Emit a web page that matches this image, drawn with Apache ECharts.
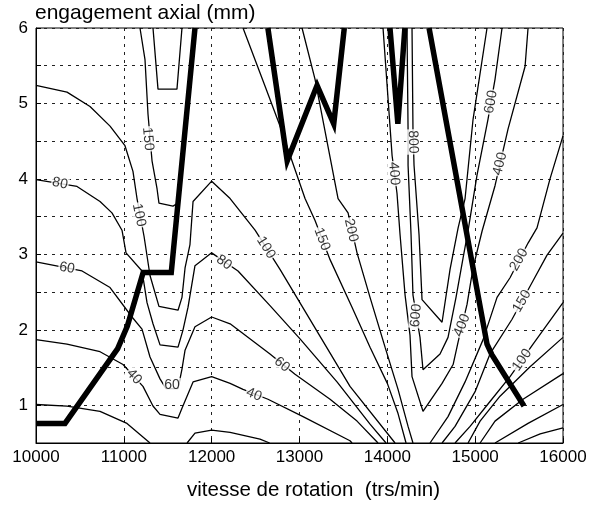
<!DOCTYPE html>
<html><head><meta charset="utf-8">
<script src="https://cdn.jsdelivr.net/npm/echarts@6/dist/echarts.min.js"></script>
<style>html,body{margin:0;padding:0;background:#fff}#c{width:595px;height:506px}</style>
</head><body><div id="c"></div>
<script>
// axis ranges / ticks
const xRange = [10000, 16000];
const yRange = [0.5, 6];
const xStep = 1000;
const yStep = 0.5;

// thick stability boundary (segments)
const limitA = [[10000,0.76],[10330,0.76],[10930,1.75],[11040,2.05],[11220,2.76],[11540,2.76],[11810,6.0]];
const limitB = [[12640,6.0],[12860,4.24],[13200,5.24],[13390,4.73],[13510,6.0]];
const limitC = [[14030,6.0],[14120,4.73],[14200,6.0]];
const limitD = [[14475,6.0],[15135,1.81],[15190,1.67],[15556,0.99]];

// contour lines (level 20)
const c20a = [[10000,1.01],[10353,0.99],[10729,0.92],[11036,0.76],[11298,0.5]];
const c20b = [[11720,0.5],[11810,0.63],[12000,0.67],[12210,0.64],[12550,0.55],[12660,0.5]];
const c20r = [[16000,0.70],[15740,0.62],[15490,0.5]];
// level 40
const c40 = [[10000,1.87],[10353,1.81],[10729,1.71],[10991,1.54],[11218,1.25],[11332,0.99],[11412,0.88],[11617,0.83],[11662,0.96],[11788,1.31],[12000,1.38],[12210,1.29],[12357,1.21],[12641,1.08],[13040,0.85],[13575,0.53],[13598,0.5]];
const c40r = [[16000,1.01],[15602,0.76],[15226,0.5]];
// level 60
const c60 = [[10000,2.90],[10524,2.78],[10843,2.56],[11093,2.17],[11207,2.01],[11298,1.64],[11412,1.35],[11480,1.22],[11617,1.22],[11662,1.48],[11697,1.73],[11810,2.04],[12000,2.17],[12210,2.08],[12664,1.68],[12949,1.41],[13348,1.08],[13655,0.79],[13894,0.5]];
const c60r = [[16000,1.42],[15545,1.08],[15226,0.79],[15056,0.5]];
// level 80
const c80 = [[10000,3.99],[10467,3.90],[10729,3.70],[10865,3.55],[10979,3.32],[11025,3.02],[11207,2.78],[11264,2.36],[11332,2.08],[11412,1.80],[11617,1.77],[11674,2.00],[11731,2.30],[11810,2.85],[12000,3.02],[12300,2.78],[12664,2.32],[13006,1.88],[13427,1.31],[13803,0.75],[13985,0.5]];
const c80r = [[16000,1.90],[15625,1.51],[15283,1.12],[15056,0.79],[14919,0.5]];
// level 100
const c100 = [[10000,5.24],[10353,5.15],[10615,4.96],[10843,4.70],[11013,4.44],[11104,4.10],[11150,3.74],[11230,3.24],[11298,2.72],[11400,2.31],[11617,2.26],[11662,2.43],[11697,2.82],[11753,3.13],[11788,3.70],[12000,3.97],[12210,3.74],[12494,3.32],[12778,2.80],[13575,1.25],[14088,0.5]];
const c100r = [[16000,2.36],[15659,1.81],[15397,1.38],[15169,1.05],[14942,0.72],[14771,0.5]];
// level 150
const c150a = [[11184,6.0],[11241,5.58],[11275,4.86],[11321,4.24],[11378,3.87],[11400,3.68],[11560,3.64],[11617,3.68],[11810,6.0]];
const c150b = [[12357,6.0],[12607,5.23],[12778,4.70],[12926,4.20],[13063,3.74],[13177,3.45],[13348,2.93],[13598,2.30],[13803,1.77],[14000,1.29],[14122,0.89],[14213,0.5]];
const c150r = [[16000,3.28],[15818,2.99],[15659,2.65],[15420,2.14],[15169,1.68],[14999,1.18],[14771,0.72],[14623,0.5]];
// level 200
const c200a = [[11332,6.0],[11389,5.19],[11605,5.19],[11662,6.0]];
const c200b = [[13029,6.0],[13177,5.32],[13439,3.74],[13553,3.55],[13655,3.02],[13803,2.43],[13974,1.77],[14122,1.21],[14236,0.72],[14292,0.5]];
const c200r = [[16000,4.57],[15852,4.00],[15704,3.35],[15602,3.15],[15397,2.69],[15249,2.43],[15090,1.87],[14885,1.31],[14691,0.85],[14486,0.5]];
// level 400
const c400 = [[13951,6.0],[14054,4.31],[14110,3.81],[14145,3.26],[14202,2.46],[14258,1.93],[14281,1.38],[14406,0.92],[14623,1.29],[14749,1.54],[14806,1.84],[14908,2.34],[14976,2.82],[15079,3.31],[15226,3.91],[15374,4.66],[15568,5.49],[15602,6.0]];
// level 600
const c600 = [[14224,6.0],[14236,4.66],[14236,4.18],[14270,3.26],[14292,2.46],[14372,1.90],[14406,1.47],[14600,1.68],[14691,1.90],[14782,2.43],[14862,2.95],[14919,3.31],[15021,4.05],[15146,4.79],[15226,5.32],[15306,6.0]];
// level 800
const c800 = [[14281,6.0],[14292,4.66],[14304,4.18],[14361,3.26],[14395,2.40],[14623,2.10],[14714,2.80],[14806,3.35],[14885,3.74],[14976,4.79],[15135,6.0]];

// contour labels
const labelText  = ['150','80','100','60','40','60','80','100','60','40','150','200','400','800','600','400','600','400','200','150','100'];
const labelX     = [11275,10273,11173,10353,11116,11548,12141,12619,12800,12482,13256,13587,14076,14292,14327,14851,15181,15283,15500,15534,15534];
const labelY     = [4.53,3.94,3.52,2.82,1.38,1.27,2.89,3.09,1.54,1.14,3.20,3.32,4.07,4.49,2.19,2.06,5.02,4.20,2.93,2.38,1.60];
const labelAngle = [-85,-12,-78,-10,-48,0,-35,-58,-40,-22,-69,-77,-86,-88,85,68,80,76,60,60,55];

const titleText = 'engagement axial (mm)';
const xName = 'vitesse de rotation  (trs/min)';

const thin = [c20a,c20b,c20r,c40,c40r,c60,c60r,c80,c80r,c100,c100r,c150a,c150b,c150r,c200a,c200b,c200r,c400,c600,c800];
const thick = [limitA,limitB,limitC,limitD];

const FONT = "'Liberation Sans', Arial, Helvetica, sans-serif";
const series = [];
thin.forEach(function(d){
  series.push({type:'line', data:d, symbol:'none', silent:true, animation:false, z:2,
    lineStyle:{color:'#000', width:1.3}});
});
series.push({type:'scatter', silent:true, animation:false, z:3, symbolSize:1,
  itemStyle:{color:'rgba(0,0,0,0)'},
  data: labelText.map(function(t,i){ return {value:[labelX[i], labelY[i]], name:t, label:{rotate:labelAngle[i]}}; }),
  label:{show:true, position:'inside', formatter:function(p){return p.name;}, color:'#000',
    fontSize:14, fontFamily:FONT, backgroundColor:'#fff', padding:[0,1,0,1]}
});
thick.forEach(function(d){
  series.push({type:'line', data:d, symbol:'none', silent:true, animation:false, z:4,
    lineStyle:{color:'#000', width:5.5, join:'miter', cap:'butt'}});
});

const chart = echarts.init(document.getElementById('c'), null, {renderer:'canvas'});
chart.setOption({
  animation:false,
  backgroundColor:'#fff',
  graphic:[{type:'text', x:35, y:3, silent:true, z:10,
    style:{text:titleText, fontSize:21, fill:'#000', fontFamily:FONT, textAlign:'left', textVerticalAlign:'top'}}],
  grid:{left:36, right:32, top:28, bottom:59, show:true, borderColor:'#000', borderWidth:1, backgroundColor:'rgba(0,0,0,0)'},
  xAxis:{type:'value', min:xRange[0], max:xRange[1], interval:xStep,
    name:xName, nameLocation:'middle', nameGap:37,
    nameTextStyle:{fontSize:20.5, color:'#000', fontFamily:FONT, padding:[0,0,0,28]},
    axisLine:{show:true, lineStyle:{color:'#000'}},
    axisTick:{show:true, inside:true, length:5, lineStyle:{color:'#000'}},
    axisLabel:{fontSize:17, color:'#000', fontFamily:FONT, margin:6, formatter:function(v){return String(v);}},
    splitLine:{show:true, lineStyle:{color:'#222', type:[3,5], width:1}}},
  yAxis:{type:'value', min:yRange[0], max:yRange[1], interval:yStep,
    axisLine:{show:true, lineStyle:{color:'#000'}},
    axisTick:{show:true, inside:true, length:5, lineStyle:{color:'#000'}},
    axisLabel:{fontSize:17, color:'#000', fontFamily:FONT, margin:8,
      formatter:function(v){ return Math.abs(v - Math.round(v)) < 1e-9 ? String(Math.round(v)) : ''; }},
    splitLine:{show:true, lineStyle:{color:'#222', type:[3,5], width:1}}},
  series: series
});
</script>
</body></html>
